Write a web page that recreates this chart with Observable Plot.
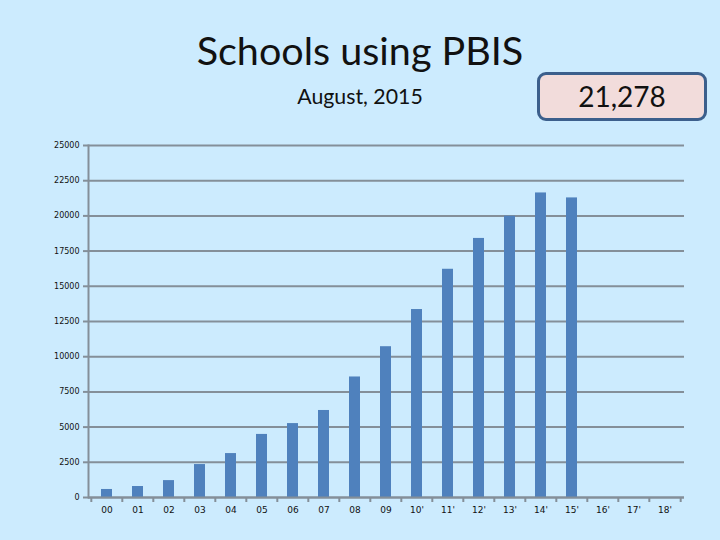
<!DOCTYPE html>
<html>
<head>
<meta charset="utf-8">
<script src="https://cdn.jsdelivr.net/npm/d3@7"></script>
<script src="https://cdn.jsdelivr.net/npm/@observablehq/plot@0.6"></script>
<style>
  html, body { margin: 0; padding: 0; background: #CCEBFE; }
  #wrap { position: relative; width: 720px; height: 540px; overflow: hidden; background: #CCEBFE; }
  #title { position: absolute; left: 0; width: 720px; top: 26px; text-align: center;
           font-family: Lato, "Open Sans", sans-serif; font-size: 39.5px; color: #111; }
  #subtitle { position: absolute; left: 0; width: 720px; top: 83px; text-align: center;
           font-family: Lato, "Open Sans", sans-serif; font-size: 21.3px; color: #111; }
  #box { position: absolute; left: 537px; top: 72px; width: 164px; height: 43px;
         border: 3px solid #3C5F8C; border-radius: 9px; background: #F2DCDB;
         font-family: Lato, "Open Sans", sans-serif; font-size: 28px; color: #111;
         text-align: center; line-height: 43px; }
  #chart { position: absolute; left: 0; top: 0; }
</style>
</head>
<body>
<div id="wrap">
  <div id="chart"></div>
  <div id="title">Schools using PBIS</div>
  <div id="subtitle">August, 2015</div>
  <div id="box">21,278</div>
</div>
<script>
const years = ["00","01","02","03","04","05","06","07","08","09","10'","11'","12'","13'","14'","15'","16'","17'","18'"];
const schools = [570, 780, 1200, 2340, 3120, 4480, 5250, 6180, 8560, 10710, 13350, 16210, 18400, 19980, 21630, 21278, null, null, null];
const yTicks = [0, 2500, 5000, 7500, 10000, 12500, 15000, 17500, 20000, 22500, 25000];

const data = years.map((y, i) => ({year: y, value: schools[i]})).filter(d => d.value != null);

const W = 720, H = 540;
const mL = 88, mR = 36, mT = 145, mB = 43;
const step = (W - mL - mR) / years.length;
const grey = "#848F99";

const chart = Plot.plot({
  width: W,
  height: H,
  marginLeft: mL,
  marginRight: mR,
  marginTop: mT,
  marginBottom: mB,
  style: {background: "transparent", fontFamily: "DejaVu Sans, sans-serif"},
  x: {type: "band", domain: years, paddingInner: 0.64, paddingOuter: 0.32},
  y: {domain: [0, 25000]},
  marks: [
    Plot.gridY(yTicks, {stroke: grey, strokeOpacity: 1, strokeWidth: 2}),
    Plot.barY(data, {x: "year", y: "value", fill: "#4F81BD"}),
    Plot.frame({anchor: "left", stroke: grey, strokeWidth: 2}),
    Plot.ruleY([0], {stroke: grey, strokeWidth: 2}),
    Plot.axisY(yTicks, {tickSize: 5, tickPadding: 4, stroke: grey, strokeWidth: 2,
      tickFormat: d3.format("d"), fontSize: 8, fill: "#111", label: null}),
    Plot.axisX(years, {tickSize: 5, dx: -step / 2, tickFormat: () => "", stroke: grey, strokeWidth: 2, label: null}),
    Plot.axisX([years[years.length - 1]], {tickSize: 5, dx: step / 2, tickFormat: () => "", stroke: grey, strokeWidth: 2, label: null}),
    Plot.axisX(years, {tickSize: 0, tickPadding: 9, fontSize: 9, fill: "#111", label: null})
  ]
});
document.getElementById("chart").appendChild(chart);
</script>
</body>
</html>
